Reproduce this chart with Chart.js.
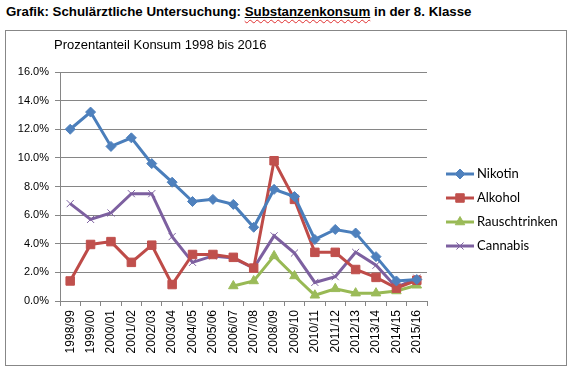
<!DOCTYPE html>
<html>
<head>
<meta charset="utf-8">
<script src="https://cdn.jsdelivr.net/npm/chart.js@4/dist/chart.umd.min.js"></script>
<style>
  body { margin: 0; background: #fff; width: 579px; height: 376px; overflow: hidden; }
  #title {
    position: absolute; left: 6px; top: 4px;
    font: bold 13.3px "Liberation Sans", Arial, sans-serif; color: #000; white-space: nowrap;
  }
  #title .ul { text-decoration: underline; }
  #title .ul span { text-decoration: underline wavy #e03030; text-underline-offset: 3px; text-decoration-thickness: 1px; }
  #box {
    position: absolute; left: 5px; top: 30px; width: 560px; height: 334px;
    border: 1px solid #878787;
  }
</style>
</head>
<body>
<div id="title">Grafik: Schulärztliche Untersuchung: <span class="ul"><span>Substanzenkonsum</span></span> in der 8. Klasse</div>
<div id="box"><canvas id="chart" width="560" height="334"></canvas></div>
<script>
var years = ["1998/99", "1999/00", "2000/01", "2001/02", "2002/03", "2003/04", "2004/05", "2005/06", "2006/07",
  "2007/08", "2008/09", "2009/10", "2010/11", "2011/12", "2012/13", "2013/14", "2014/15", "2015/16"];

// values in percent
var nikotin = [12.0, 13.2, 10.8, 11.4, 9.6, 8.3, 6.95, 7.1, 6.75, 5.15, 7.8, 7.3, 4.3, 5.0, 4.75, 3.1, 1.4, 1.5];
var alkohol = [1.4, 3.95, 4.15, 2.7, 3.9, 1.15, 3.25, 3.25, 3.05, 2.3, 9.8, 7.1, 3.4, 3.4, 2.2, 1.65, 0.9, 1.45];
var rauschtrinken = [null, null, null, null, null, null, null, null, 1.05, 1.4, 3.15, 1.75, 0.4, 0.85, 0.55, 0.55, 0.7, 1.1];
var cannabis = [6.8, 5.7, 6.15, 7.5, 7.5, 4.5, 2.7, 3.15, 3.0, 2.3, 4.55, 3.35, 1.3, 1.7, 3.4, 2.5, 0.95, 1.6];

var yTicks = [0, 2, 4, 6, 8, 10, 12, 14, 16];

var axisFont = { family: "'Liberation Sans', Arial, sans-serif", size: 11 };
var gridColor = "#868686";

function series(label, data, line, fill, style, radius, pbw) {
  return {
    label: label,
    data: data,
    borderColor: line,
    backgroundColor: fill,
    borderWidth: 3,
    pointStyle: style,
    pointRadius: radius,
    pointHoverRadius: radius,
    pointBorderColor: style == "crossRot" ? line : fill,
    pointBackgroundColor: fill,
    pointBorderWidth: pbw,
    tension: 0,
    spanGaps: false
  };
}

// subtitle and legend drawn by hand (line + marker samples like the original)
var extras = {
  id: "extras",
  afterDraw: function(chart) {
    var ctx = chart.ctx;
    ctx.save();
    ctx.fillStyle = "#000";
    ctx.font = "13px 'Liberation Sans', Arial, sans-serif";
    ctx.textBaseline = "alphabetic";
    ctx.fillText("Prozentanteil Konsum 1998 bis 2016", 48, 18);

    var ys = [143, 167, 191, 215];
    ctx.font = "13px Lato, 'Noto Sans', sans-serif";
    ctx.textBaseline = "middle";
    chart.data.datasets.forEach(function(ds, i) {
      var y = ys[i];
      ctx.strokeStyle = ds.borderColor;
      ctx.lineWidth = 3;
      ctx.beginPath();
      ctx.moveTo(440, y);
      ctx.lineTo(468, y);
      ctx.stroke();
      ctx.fillStyle = ds.pointBackgroundColor;
      ctx.strokeStyle = ds.pointBorderColor;
      ctx.lineWidth = ds.pointBorderWidth;
      Chart.helpers.drawPoint(ctx, { pointStyle: ds.pointStyle, radius: ds.pointRadius, borderWidth: ds.pointBorderWidth, rotation: 0 }, 454, y);
      ctx.fillStyle = "#000";
      ctx.fillText(ds.label, 471, y);
    });
    ctx.restore();
  }
};

new Chart(document.getElementById("chart"), {
  type: "line",
  data: {
    labels: years,
    datasets: [
      series("Nikotin", nikotin, "#4A7EBB", "#4F81BD", "rectRot", 5, 1),
      series("Alkohol", alkohol, "#BE4B48", "#C0504D", "rect", 6, 1),
      series("Rauschtrinken", rauschtrinken, "#98B954", "#9BBB59", "triangle", 5.5, 1),
      series("Cannabis", cannabis, "#7D60A0", "#8064A2", "crossRot", 5, 1)
    ]
  },
  options: {
    responsive: false,
    animation: false,
    layout: { padding: { left: 0, top: 41, right: 139, bottom: 0 } },
    plugins: {
      legend: { display: false },
      title: { display: false },
      tooltip: { enabled: false }
    },
    scales: {
      x: {
        offset: true,
        grid: { offset: true, drawOnChartArea: false, color: gridColor, tickLength: 5, tickColor: gridColor },
        border: { color: gridColor },
        ticks: { color: "#000", font: { family: axisFont.family, size: 12 }, minRotation: 90, maxRotation: 90, autoSkip: false, padding: 4 },
        afterFit: function(scale) { scale.height = 64; }
      },
      y: {
        min: 0,
        max: 16,
        afterBuildTicks: function(scale) {
          scale.ticks = yTicks.map(function(v) { return { value: v }; });
        },
        grid: { color: gridColor, tickLength: 5, tickColor: gridColor },
        border: { color: gridColor },
        ticks: {
          color: "#000",
          font: axisFont,
          padding: 6,
          callback: function(v) { return v.toFixed(1) + "%"; }
        },
        afterFit: function(scale) { scale.width = 54; }
      }
    }
  },
  plugins: [extras]
});
</script>
</body>
</html>
